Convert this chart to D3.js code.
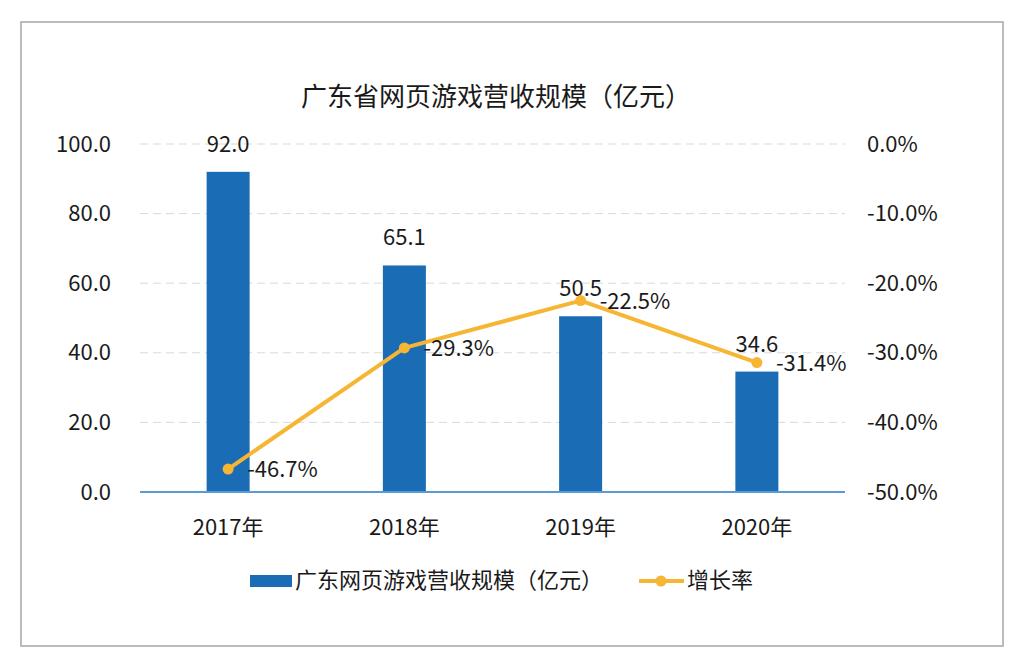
<!DOCTYPE html>
<html>
<head>
  <meta charset="UTF-8">
  <style>
    body { margin: 0; background: white; }
    svg text { font-family: "Noto Sans CJK SC", "Noto Sans", sans-serif; fill: #1a1a1a; }
    .grid line { stroke: #d9d9d9; stroke-width: 1; stroke-dasharray: 8 5; }
  </style>
</head>
<body>
<svg id="chart" width="1024" height="668"></svg>

<script src="https://d3js.org/d3.v7.min.js"></script>
<script>

const years = ["2017年", "2018年", "2019年", "2020年"];
const revenue = [92.0, 65.1, 50.5, 34.6];
const growth = [-46.7, -29.3, -22.5, -31.4];
const leftTicks = [0, 20, 40, 60, 80, 100];
const rightTicks = [0, -10, -20, -30, -40, -50];

const title = "广东省网页游戏营收规模（亿元）";
const barName = "广东网页游戏营收规模（亿元）";
const lineName = "增长率";

const barColor = "#1a6db5";
const lineColor = "#f6b533";

// plain hyphen for negatives, like the original
let fmt = d3.formatLocale({decimal: ".", thousands: ",", grouping: [3], currency: ["", ""], minus: "-"}).format(".1f");

let svg = d3.select("#chart");

// outer frame
svg.append("rect")
    .attr("x", 21).attr("y", 22)
    .attr("width", 982).attr("height", 624)
    .attr("fill", "white")
    .attr("stroke", "#a6a6a6")
    .attr("stroke-width", 1.5);

let x = d3.scaleBand().domain(years).range([140, 845]);
let yL = d3.scaleLinear().domain([0, 100]).range([492, 144]);
let yR = d3.scaleLinear().domain([-50, 0]).range([492, 144]);

svg.append("text")
    .attr("x", 496).attr("y", 106)
    .attr("text-anchor", "middle")
    .style("font-size", "26px")
    .text(title);

// gridlines
svg.append("g")
    .attr("class", "grid")
    .selectAll("line")
    .data(leftTicks.filter(d => d > 0))
    .enter()
    .append("line")
    .attr("x1", 140).attr("x2", 845)
    .attr("y1", d => yL(d)).attr("y2", d => yL(d));

// left axis
let leftAxis = svg.append("g")
    .attr("transform", "translate(111,0)")
    .call(d3.axisLeft(yL).tickValues(leftTicks).tickFormat(fmt).tickSize(0).tickPadding(0));
leftAxis.select(".domain").remove();

// right axis
let rightAxis = svg.append("g")
    .attr("transform", "translate(867,0)")
    .call(d3.axisRight(yR).tickValues(rightTicks).tickFormat(d => fmt(d) + "%").tickSize(0).tickPadding(0));
rightAxis.select(".domain").remove();

// bottom axis
let bottomAxis = svg.append("g")
    .attr("transform", "translate(0,492)")
    .call(d3.axisBottom(x).tickSize(0).tickPadding(27));
bottomAxis.select(".domain").remove();

svg.selectAll(".tick text")
    .style("font-size", "22px")
    .attr("fill", "#1a1a1a");

// bars
let barW = 43;
svg.append("g")
    .selectAll("rect")
    .data(revenue)
    .enter()
    .append("rect")
    .attr("x", (d, i) => x(years[i]) + x.bandwidth() / 2 - barW / 2)
    .attr("y", d => yL(d))
    .attr("width", barW)
    .attr("height", d => yL(0) - yL(d))
    .attr("fill", barColor);

svg.append("line")
    .attr("x1", 140).attr("x2", 845)
    .attr("y1", 492).attr("y2", 492)
    .attr("stroke", "#5b9bd5")
    .attr("stroke-width", 2);

svg.append("g")
    .selectAll("text")
    .data(revenue)
    .enter()
    .append("text")
    .attr("x", (d, i) => x(years[i]) + x.bandwidth() / 2)
    .attr("y", d => yL(d) - 20)
    .attr("text-anchor", "middle")
    .style("font-size", "22px")
    .text(d => fmt(d));

// growth line
let line = d3.line()
    .x((d, i) => x(years[i]) + x.bandwidth() / 2)
    .y(d => yR(d));

svg.append("path")
    .datum(growth)
    .attr("d", line)
    .attr("fill", "none")
    .attr("stroke", lineColor)
    .attr("stroke-width", 4)
    .attr("stroke-linejoin", "round");

svg.append("g")
    .selectAll("circle")
    .data(growth)
    .enter()
    .append("circle")
    .attr("cx", (d, i) => x(years[i]) + x.bandwidth() / 2)
    .attr("cy", d => yR(d))
    .attr("r", 5.5)
    .attr("fill", lineColor);

svg.append("g")
    .selectAll("text")
    .data(growth)
    .enter()
    .append("text")
    .attr("x", (d, i) => x(years[i]) + x.bandwidth() / 2 + 19)
    .attr("y", d => yR(d) + 2)
    .attr("dominant-baseline", "middle")
    .style("font-size", "22px")
    .text(d => fmt(d) + "%");

// legend
let legend = svg.append("g");
legend.append("rect")
    .attr("x", 250).attr("y", 575)
    .attr("width", 42).attr("height", 12)
    .attr("fill", barColor);
legend.append("text")
    .attr("x", 295).attr("y", 582)
    .attr("dominant-baseline", "middle")
    .style("font-size", "22px")
    .text(barName);
legend.append("line")
    .attr("x1", 639).attr("x2", 684)
    .attr("y1", 581).attr("y2", 581)
    .attr("stroke", lineColor)
    .attr("stroke-width", 4);
legend.append("circle")
    .attr("cx", 661).attr("cy", 581)
    .attr("r", 5.5)
    .attr("fill", lineColor);
legend.append("text")
    .attr("x", 687).attr("y", 582)
    .attr("dominant-baseline", "middle")
    .style("font-size", "22px")
    .text(lineName);

</script>
</body>
</html>
